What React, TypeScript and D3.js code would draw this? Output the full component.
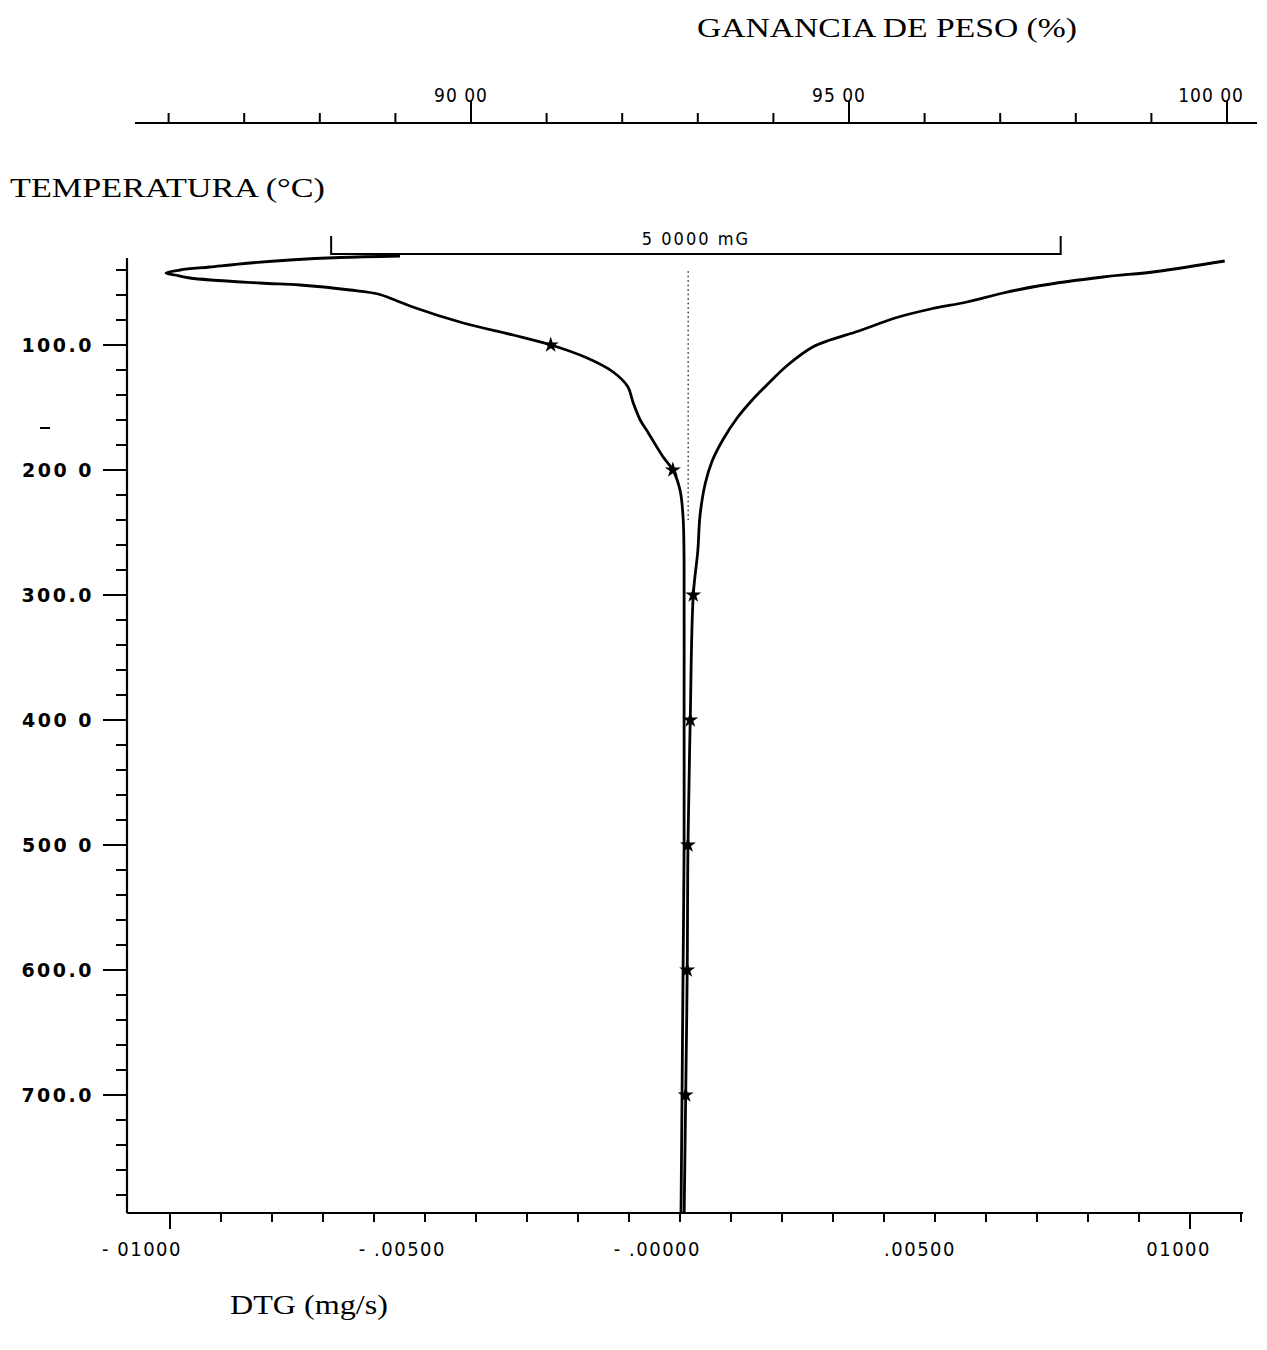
import React from "react";
import * as d3 from "d3";

// DTG curve (left branch): temperature (°C) and DTG (mg/s)
const dtgTemp = [28.8, 30, 32, 34.4, 37.6, 40, 42.4, 44, 46.4, 50.4, 52, 56, 59.2, 64, 69.6, 82.4, 92, 99.2, 110.4, 121.6, 133.6, 146, 160, 170.4, 189.6, 200, 216, 237.6, 272, 384, 504, 600, 700, 794];
const dtgValue = [-0.00549, -0.00667, -0.00765, -0.00843, -0.00922, -0.0098, -0.01008, -0.0099, -0.00961, -0.00824, -0.00745, -0.00647, -0.00592, -0.00559, -0.00524, -0.00425, -0.00327, -0.00259, -0.00182, -0.00131, -0.00102, -0.00092, -0.00078, -0.00062, -0.00033, -0.00014, 0.0, 0.00006, 0.00008, 0.00008, 0.00008, 0.00006, 0.00004, 0.00002];

// Weight curve (right branch): temperature (°C) and weight (%)
const tgTemp = [32.8, 41.2, 45.6, 52.8, 58.4, 65.6, 71.2, 78.4, 88.8, 96, 101.6, 116, 132.8, 144, 158.4, 176, 192.8, 210.4, 236, 264.8, 300, 400, 500, 600, 700, 794];
const tgWeight = [99.97, 99.07, 98.36, 97.5, 97.04, 96.56, 96.08, 95.61, 95.13, 94.75, 94.52, 94.19, 93.9, 93.72, 93.52, 93.33, 93.19, 93.1, 93.03, 93.0, 92.94, 92.9, 92.87, 92.86, 92.84, 92.82];

// markers (every 100 °C)
const dtgMarkerTemps = [100, 200];
const tgMarkerTemps = [300, 400, 500, 600, 700];

// axes ticks
const tempLabels = ["100.0", "200 0", "300.0", "400 0", "500 0", "600.0", "700.0"];
const tempMajor = [100, 200, 300, 400, 500, 600, 700];
const dtgMajor = [-0.01, -0.005, 0, 0.005, 0.01];
const dtgLabels = ["- 01000", "- .00500", "- .00000", ".00500", "01000"];
const weightMajor = [90, 95, 100];
const weightLabels = ["90 00", "95 00", "100 00"];

// reference annotations
const zeroLineDtg = 0.00016;
const zeroLineTemps = [41, 240];
const bracketWeights = [88.15, 97.8];
const bracketLabel = "5 0000 mG";

export default function App() {
  const W = 1267, H = 1350;
  const y = d3.scaleLinear().domain([100, 700]).range([345, 1095]);
  const xD = d3.scaleLinear().domain([-0.01, 0.01]).range([170, 1190]);
  const xW = d3.scaleLinear().domain([90, 100]).range([471, 1227]);

  const dtgPts = dtgTemp.map((t, i) => [xD(dtgValue[i]), y(t)] as [number, number]);
  const tgPts = tgTemp.map((t, i) => [xW(tgWeight[i]), y(t)] as [number, number]);
  const lineC = d3.line().curve(d3.curveCatmullRom.alpha(0.5));

  const interp = (temps: number[], vals: number[], t: number) => {
    for (let i = 0; i < temps.length - 1; i++) {
      const a = temps[i], b = temps[i + 1];
      if (t >= a && t <= b) {
        const f = (t - a) / (b - a);
        return vals[i] + f * (vals[i + 1] - vals[i]);
      }
    }
    return vals[vals.length - 1];
  };
  const lowerT = dtgTemp.slice(6), lowerV = dtgValue.slice(6);

  const star = d3.symbol().type(d3.symbolStar).size(80)();

  const axisX = 127, axisBottom = 1213, axisTop = 258;
  const topAxisY = 123;

  const leftTicks = d3.range(40, 781, 20);
  const bottomTicks = d3.range(-0.01, 0.01101, 0.001).map((v) => Math.round(v * 10000) / 10000);
  const topTicks = d3.range(86, 100.01, 1);

  const tickFont = "'DejaVu Sans Condensed', 'DejaVu Sans', sans-serif";
  const serif = "'Liberation Serif', 'Times New Roman', serif";

  return (
    <svg width={W} height={H} style={{ position: "absolute", left: 0, top: 0, background: "#fff" }}>
      <rect width={W} height={H} fill="#fff" />
      {/* titles */}
      <text x={697} y={37} fontFamily={serif} fontSize={28} fill="#000" textLength={380} lengthAdjust="spacingAndGlyphs">GANANCIA DE PESO (%)</text>
      <text x={10} y={197} fontFamily={serif} fontSize={28} fill="#000" textLength={315} lengthAdjust="spacingAndGlyphs">TEMPERATURA (°C)</text>
      <text x={230} y={1314} fontFamily={serif} fontSize={28} fill="#000" textLength={158} lengthAdjust="spacingAndGlyphs">DTG (mg/s)</text>

      {/* top weight axis */}
      <line x1={135} x2={1257} y1={topAxisY} y2={topAxisY} stroke="#000" strokeWidth={2} />
      {topTicks.map((v) => {
        const major = weightMajor.includes(v);
        return <line key={"tt" + v} x1={xW(v)} x2={xW(v)} y1={topAxisY} y2={topAxisY - (major ? 22 : 10)} stroke="#000" strokeWidth={2} />;
      })}
      {weightMajor.map((v, i) => (
        <text key={"tl" + v} x={xW(v) + 17} y={102} textAnchor="end" fontFamily={tickFont} fontSize={19} letterSpacing={1} fill="#000">{weightLabels[i]}</text>
      ))}

      {/* left temperature axis */}
      <line x1={axisX} x2={axisX} y1={axisTop} y2={axisBottom} stroke="#000" strokeWidth={2.2} />
      {leftTicks.map((t) => {
        const major = tempMajor.includes(t);
        return <line key={"lt" + t} x1={axisX} x2={axisX - (major ? 24 : 11)} y1={y(t)} y2={y(t)} stroke="#000" strokeWidth={2} />;
      })}
      {tempMajor.map((t, i) => (
        <text key={"ll" + t} x={94} y={y(t) + 7} textAnchor="end" fontFamily="'DejaVu Sans', sans-serif" fontWeight="bold" fontSize={19} letterSpacing={2.5} fill="#000">{tempLabels[i]}</text>
      ))}
      <line x1={40} x2={50} y1={428} y2={428} stroke="#000" strokeWidth={2} />

      {/* bottom DTG axis */}
      <line x1={axisX} x2={1243} y1={axisBottom} y2={axisBottom} stroke="#000" strokeWidth={2} />
      {bottomTicks.map((v) => {
        const major = Math.abs(Math.abs(v) - 0.01) < 1e-6;
        return <line key={"bt" + v} x1={xD(v)} x2={xD(v)} y1={axisBottom} y2={axisBottom + (major ? 16 : 9)} stroke="#000" strokeWidth={2} />;
      })}
      {dtgMajor.map((v, i) => (
        <text key={"bl" + v} x={xD(v) + (i === 0 ? 12 : 21)} y={1256} textAnchor="end" fontFamily={tickFont} fontSize={20} letterSpacing={1.5} fill="#000">{dtgLabels[i]}</text>
      ))}

      {/* 5.0000 mG scale bracket */}
      <path d={`M${xW(bracketWeights[0])},236 V254 H${xW(bracketWeights[1])} V236`} fill="none" stroke="#000" strokeWidth={2} />
      <text x={(xW(bracketWeights[0]) + xW(bracketWeights[1])) / 2} y={245} textAnchor="middle" fontFamily={tickFont} fontSize={18} letterSpacing={2} fill="#000">{bracketLabel}</text>

      {/* dotted zero line */}
      <line x1={xD(zeroLineDtg)} x2={xD(zeroLineDtg)} y1={y(zeroLineTemps[0])} y2={y(zeroLineTemps[1])} stroke="#000" strokeWidth={1.2} strokeDasharray="1.5,3" />

      {/* curves */}
      <path d={lineC(dtgPts) || ""} fill="none" stroke="#000" strokeWidth={2.8} strokeLinejoin="round" />
      <path d={lineC(tgPts) || ""} fill="none" stroke="#000" strokeWidth={2.8} strokeLinejoin="round" />

      {/* markers */}
      {dtgMarkerTemps.map((t) => (
        <path key={"dm" + t} d={star || ""} transform={`translate(${xD(interp(lowerT, lowerV, t))},${y(t)})`} fill="#000" />
      ))}
      {tgMarkerTemps.map((t) => (
        <path key={"tm" + t} d={star || ""} transform={`translate(${xW(interp(tgTemp, tgWeight, t))},${y(t)})`} fill="#000" />
      ))}
    </svg>
  );
}
